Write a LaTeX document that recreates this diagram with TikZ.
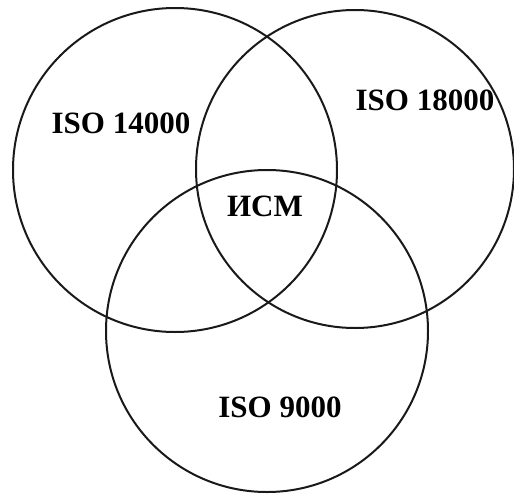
\documentclass[tikz,border=0pt]{standalone}
\usepackage{fontspec}
\setmainfont{Liberation Serif}
\usepackage{tikz}
\usetikzlibrary{positioning}

\begin{document}
\begin{tikzpicture}
[x=1pt, y=-1pt,
setcircle/.style={circle, draw=black!90, line width=2pt, inner sep=0pt, minimum size=#1},
setlabel/.style={font=\bfseries\fontsize{31}{36}\selectfont, inner sep=0pt},
]
\useasboundingbox (0,0) rectangle (514,493);
\node[setcircle=324pt]	(leftset) at (175,170) {};
\node[setcircle=318pt]	(rightset) at (355,169) {};
\node[setcircle=322pt]	(bottomset) at (267,331) {};

\node[setlabel]	(leftlabel) at (121,123) {ISO 14000};
\node[setlabel]	(rightlabel) at (425,100) {ISO 18000};
\node[setlabel]	(middlelabel) at (265,206) {ИСМ};
\node[setlabel]	(bottomlabel) at (280,407) {ISO 9000};
\end{tikzpicture}
\end{document}
